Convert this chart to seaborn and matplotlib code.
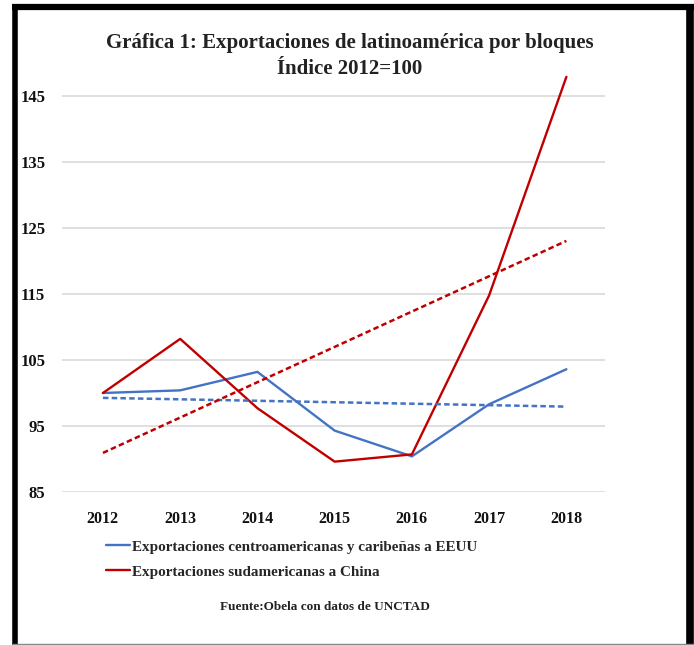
import numpy as np
import pandas as pd
import matplotlib
matplotlib.use("Agg")
import matplotlib.pyplot as plt
from matplotlib.lines import Line2D
import seaborn as sns

years = [2012, 2013, 2014, 2015, 2016, 2017, 2018]
centro_eeuu = [100.0, 100.4, 103.2, 94.3, 90.4, 98.3, 103.6]
sud_china = [100.0, 108.2, 97.7, 89.6, 90.7, 114.8, 147.9]
label_centro = "Exportaciones centroamericanas y caribeñas a EEUU"
label_sud = "Exportaciones sudamericanas a China"
y_ticks = [85, 95, 105, 115, 125, 135, 145]
title = "Gráfica 1: Exportaciones de latinoamérica por bloques\nÍndice 2012=100"
source = "Fuente:Obela con datos de UNCTAD"

BLUE = "#4472C4"
RED = "#C00000"

sns.set_theme(style="white")
plt.rcParams["font.family"] = ["Liberation Serif", "DejaVu Serif"]
plt.rcParams["font.weight"] = "bold"

df = pd.DataFrame({"year": years, "centro": centro_eeuu, "sud": sud_china})

W, H = 694, 645
fig = plt.figure(figsize=(W / 100, H / 100), dpi=100)
ax_left, ax_right = 62, 605
ax_top, ax_bottom = 63, 492
ax = fig.add_axes([ax_left / W, 1 - ax_bottom / H, (ax_right - ax_left) / W, (ax_bottom - ax_top) / H])

sns.lineplot(data=df, x="year", y="centro", ax=ax, color=BLUE, lw=1.7, label=label_centro)
sns.lineplot(data=df, x="year", y="sud", ax=ax, color=RED, lw=1.7, label=label_sud)
sns.regplot(data=df, x="year", y="centro", ax=ax, scatter=False, ci=None, truncate=True,
            line_kws=dict(color=BLUE, lw=1.8, ls=(0, (2.2, 1.3))))
sns.regplot(data=df, x="year", y="sud", ax=ax, scatter=False, ci=None, truncate=True,
            line_kws=dict(color=RED, lw=1.8, ls=(0, (2.2, 1.3))))

ax.set_xlim(2011.47, 2018.5)
ax.set_ylim(85, 150)
ax.set_yticks(y_ticks)
ax.set_xticks(years)
ax.set_xticklabels([str(y) for y in years])
ax.set_xlabel("")
ax.set_ylabel("")
for s in ax.spines.values():
    s.set_visible(False)
ax.grid(axis="y", color="#d9d9d9", lw=1.2)
ax.grid(axis="x", visible=False)
ax.tick_params(axis="y", length=0, pad=12, labelsize=12)
ax.tick_params(axis="x", length=0, pad=14, labelsize=11.5)
for t in ax.get_xticklabels() + ax.get_yticklabels():
    t.set_fontweight("bold")
    t.set_color("#111111")

handles, labels = ax.get_legend_handles_labels()
ax.get_legend().remove()
fig.legend(handles[:2], labels[:2], loc="upper left",
           bbox_to_anchor=(106 / W, 1 - 540 / H), frameon=False,
           handlelength=1.6, handletextpad=0.15, labelspacing=0.75,
           borderaxespad=0, borderpad=0, prop=dict(weight="bold", size=10.9))

fig.text(350 / W, 1 - 56 / H, title, ha="center", va="center", fontsize=15,
         fontweight="bold", color="#222222", linespacing=1.35)
fig.text(325 / W, 1 - 607 / H, source, ha="center", va="center", fontsize=9.5,
         fontweight="bold", color="#222222")

# border frame
kw = dict(transform=fig.transFigure, solid_capstyle="butt")
fig.add_artist(Line2D([14.5 / W, 14.5 / W], [1 - 4 / H, 1 - 645 / H], color="black", lw=4, **kw))
fig.add_artist(Line2D([12 / W, 694 / W], [1 - 7 / H, 1 - 7 / H], color="black", lw=4.5, **kw))
fig.add_artist(Line2D([690 / W, 690 / W], [1 - 4 / H, 1 - 645 / H], color="black", lw=5.5, **kw))
fig.add_artist(Line2D([12 / W, 694 / W], [1 - 643.5 / H, 1 - 643.5 / H], color="#888888", lw=1, **kw))

fig.savefig("out.png", dpi=100)
